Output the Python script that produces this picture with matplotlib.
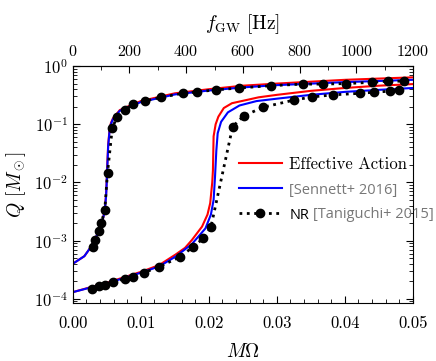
import numpy as np
import matplotlib
matplotlib.use("Agg")
import matplotlib.pyplot as plt
from matplotlib.ticker import MultipleLocator, LogLocator, NullFormatter, FuncFormatter

plt.rcParams['font.family'] = 'cmr10'
plt.rcParams['mathtext.fontset'] = 'cm'
plt.rcParams['axes.formatter.use_mathtext'] = True
plt.rcParams['axes.unicode_minus'] = False

# Effective Action (red)
ea_up_x = [0.0, 0.0017, 0.0027, 0.0037, 0.0043, 0.0047, 0.0049, 0.0050, 0.0051, 0.0052, 0.0054,
           0.0056, 0.0059, 0.0069, 0.008, 0.010, 0.015, 0.020, 0.025, 0.030, 0.040, 0.050]
ea_up_q = [4.0e-4, 5.4e-4, 7.9e-4, 1.35e-3, 2.0e-3, 3.4e-3, 6.5e-3, 1.2e-2, 2.5e-2, 4.5e-2, 8.0e-2,
           1.05e-1, 1.26e-1, 1.75e-1, 2.0e-1, 2.5e-1, 3.4e-1, 4.0e-1, 4.6e-1, 5.0e-1, 5.8e-1, 6.4e-1]
ea_lo_x = [0.0, 0.0054, 0.0102, 0.0127, 0.0151, 0.0165, 0.0175, 0.0190, 0.0198, 0.0202, 0.0205,
           0.0206, 0.0207, 0.0210, 0.0214, 0.0222, 0.0234, 0.0258, 0.0273, 0.030, 0.035, 0.040,
           0.045, 0.050]
ea_lo_q = [1.3e-4, 1.95e-4, 2.95e-4, 3.8e-4, 5.75e-4, 7.5e-4, 1.02e-3, 1.74e-3, 2.8e-3, 4.4e-3, 1.0e-2,
           1.6e-2, 6.2e-2, 1.0e-1, 1.35e-1, 1.9e-1, 2.3e-1, 2.65e-1, 2.9e-1, 3.2e-1, 3.75e-1, 4.2e-1,
           4.6e-1, 4.9e-1]

# Sennett+ 2016 (blue)
sen_up_x = [0.0, 0.0017, 0.0027, 0.0037, 0.0043, 0.0047, 0.0049, 0.0050, 0.0051, 0.0052, 0.0054,
            0.0056, 0.0059, 0.0069, 0.008, 0.010, 0.015, 0.020, 0.025, 0.030, 0.040, 0.050]
sen_up_q = [4.0e-4, 5.4e-4, 7.9e-4, 1.35e-3, 2.0e-3, 3.3e-3, 6.0e-3, 1.1e-2, 2.2e-2, 4.2e-2, 7.6e-2,
            1.0e-1, 1.22e-1, 1.7e-1, 1.95e-1, 2.4e-1, 3.25e-1, 3.8e-1, 4.3e-1, 4.7e-1, 5.3e-1, 5.8e-1]
sen_lo_x = [0.0, 0.0054, 0.0102, 0.0127, 0.0151, 0.0175, 0.0195, 0.0203, 0.0207, 0.0209, 0.0211,
            0.0213, 0.0218, 0.0228, 0.0245, 0.0270, 0.030, 0.035, 0.040, 0.045, 0.050]
sen_lo_q = [1.3e-4, 1.9e-4, 2.85e-4, 3.6e-4, 5.3e-4, 8.7e-4, 1.62e-3, 2.8e-3, 5.0e-3, 1.2e-2, 3.5e-2,
            7.0e-2, 1.1e-1, 1.6e-1, 2.1e-1, 2.5e-1, 2.75e-1, 3.2e-1, 3.6e-1, 3.9e-1, 4.2e-1]

# NR, Taniguchi+ 2015
nr_up_x = [0.0029, 0.0032, 0.0038, 0.0042, 0.0047, 0.0051, 0.0058, 0.0065, 0.0076, 0.0089, 0.0106,
           0.0129, 0.0162, 0.0183, 0.021, 0.0245, 0.0291, 0.0338, 0.0368, 0.0401, 0.0440, 0.0463,
           0.0487]
nr_up_q = [7.9e-4, 1.02e-3, 1.48e-3, 2.0e-3, 3.4e-3, 1.45e-2, 8.5e-2, 1.35e-1, 1.75e-1, 2.2e-1, 2.5e-1,
           2.9e-1, 3.4e-1, 3.6e-1, 3.9e-1, 4.2e-1, 4.6e-1, 4.9e-1, 4.9e-1, 5.0e-1, 5.25e-1, 5.5e-1,
           5.5e-1]
nr_lo_x = [0.0028, 0.0039, 0.0047, 0.0059, 0.0076, 0.0089, 0.0104, 0.0126, 0.0157, 0.0177, 0.0192,
           0.0203, 0.0235, 0.0251, 0.0279, 0.0325, 0.0352, 0.0383, 0.0422, 0.0443, 0.0466, 0.0479]
nr_lo_q = [1.5e-4, 1.66e-4, 1.74e-4, 1.95e-4, 2.2e-4, 2.4e-4, 2.8e-4, 3.5e-4, 5.2e-4, 7.8e-4, 1.1e-3,
           1.7e-3, 9.1e-2, 1.38e-1, 1.95e-1, 2.6e-1, 2.95e-1, 3.2e-1, 3.4e-1, 3.55e-1, 3.7e-1, 3.9e-1]

hz_per_unit = 24000.0  # f_GW [Hz] per unit of M*Omega

fig = plt.figure(figsize=(4.36, 3.61), dpi=100)
ax = fig.add_axes([0.167, 0.161, 0.780, 0.656])

ax.plot(ea_up_x, ea_up_q, color='red', lw=1.5, label='Effective Action')
ax.plot(ea_lo_x, ea_lo_q, color='red', lw=1.5)
ax.plot(sen_up_x, sen_up_q, color='blue', lw=1.5, label='[Sennett+ 2016]')
ax.plot(sen_lo_x, sen_lo_q, color='blue', lw=1.5)
ax.plot(nr_up_x, nr_up_q, color='black', ls=':', lw=2, marker='o', ms=6, label='NR')
ax.plot(nr_lo_x, nr_lo_q, color='black', ls=':', lw=2, marker='o', ms=6)

ax.set_yscale('log')
ax.set_xlim(0, 0.05)
ax.set_ylim(8.5e-5, 1)
ax.xaxis.set_major_locator(MultipleLocator(0.01))
ax.xaxis.set_minor_locator(MultipleLocator(0.002))
ax.xaxis.set_major_formatter(FuncFormatter(lambda v, p: '%.2f' % v))
ax.yaxis.set_major_locator(LogLocator(base=10, numticks=10))
ax.yaxis.set_minor_locator(LogLocator(base=10, subs=np.arange(2, 10), numticks=20))
ax.yaxis.set_minor_formatter(NullFormatter())
ax.tick_params(which='both', direction='in', right=True, labelsize=12)
ax.tick_params(axis='x', pad=9)
ax.tick_params(which='major', length=5)
ax.tick_params(which='minor', length=3)

ax.set_xlabel(r'$M\Omega$', fontsize=14, labelpad=9)
ax.set_ylabel(r'$Q\ [M_\odot]$', fontsize=14)

top = ax.secondary_xaxis('top', functions=(lambda x: x * hz_per_unit, lambda f: f / hz_per_unit))
top.xaxis.set_major_locator(MultipleLocator(200))
top.xaxis.set_minor_locator(MultipleLocator(100))
top.tick_params(which='both', direction='in', labelsize=11.5, pad=5)
top.tick_params(which='major', length=5)
top.tick_params(which='minor', length=3)
top.set_xlabel(r'$f_{\rm GW}\ [{\rm Hz}]$', fontsize=14, labelpad=11)

leg = ax.legend(loc='center left', bbox_to_anchor=(0.468, 0.477), frameon=False, fontsize=12,
                handlelength=2.6, handletextpad=0.45, labelspacing=0.6, borderaxespad=0.0)
txts = leg.get_texts()
txts[1].set_fontfamily('Open Sans')
txts[1].set_fontsize(10.5)
txts[1].set_color('#777777')
txts[2].set_fontfamily('Open Sans')
txts[2].set_fontsize(10.5)

fig.canvas.draw()
bb = txts[2].get_window_extent().transformed(fig.transFigure.inverted())
fig.text(bb.x1 + 0.008, bb.y0 + 0.004, '[Taniguchi+ 2015]', family='Open Sans', fontsize=10.5,
         color='#777777', va='bottom', ha='left')

fig.savefig('out.png', dpi=100)
